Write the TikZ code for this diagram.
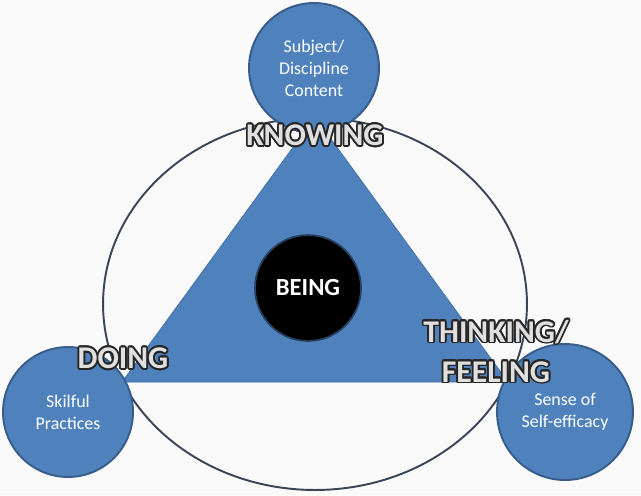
\documentclass[tikz,border=0pt]{standalone}
\usepackage{fontspec}
\setmainfont{Carlito}
\usepackage{contour}
\contourlength{1pt}
\usetikzlibrary{shapes.geometric}
\definecolor{officeblue}{HTML}{4F81BD}
\definecolor{officeedge}{HTML}{385D8A}
\definecolor{ringline}{HTML}{3A4658}
\tikzset{
  topic/.style={circle,draw=officeedge,line width=1.1pt,fill=officeblue,text=white,align=center,
    font=\fontsize{10.2}{12.5}\selectfont,inner sep=0pt},
  stance/.style={text=white!88!black,align=center,font=\fontsize{18}{22.7}\selectfont\bfseries,inner sep=0pt}
}
\begin{document}
\begin{tikzpicture}[x=0.02cm,y=-0.02cm]
    \useasboundingbox[fill=white!98!black] (0,0) rectangle (641,495);
    \node (ring) [ellipse,draw=ringline,line width=1.1pt,minimum width=8.48cm,minimum height=7.44cm] at (315,304) {};
    \fill[officeblue,draw=officeedge!50!officeblue,thin] (ring.north) -- (508,382) -- (122,382) -- cycle;

    \node (being) [circle,fill=black,draw=officeedge!70!black,line width=1pt,minimum size=2.12cm,text=white,
      font=\fontsize{14}{16}\selectfont\bfseries] at (308,288) {BEING};

    \node (subject) [topic,minimum size=2.6cm] at (314,68) {Subject/\\Discipline\\Content};
    \node (skilful) [topic,minimum size=2.6cm] at (68,412) {Skilful\\Practices};
    \node (efficacy) [topic,minimum size=2.72cm] at (565,412) {Sense of\\Self-efficacy};

    \node (knowing) [stance] at (315,136) {\contour{black!85}{KNOWING}};
    \node (doing) [stance] at (123,359) {\contour{black!85}{DOING}};
    \node (thinking) [stance] at (496,352) {\contour{black!85}{THINKING/}\\\contour{black!85}{FEELING}};
\end{tikzpicture}
\end{document}
